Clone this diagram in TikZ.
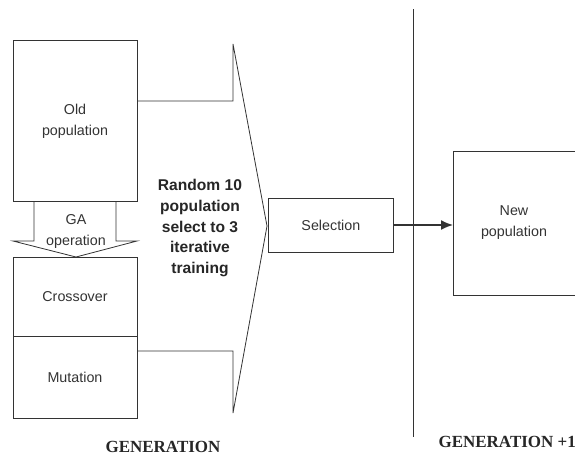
\documentclass[tikz,border=0pt]{standalone}
\usepackage{fontspec}
\setmainfont{Liberation Sans}
\newfontfamily\headfont{Liberation Serif}
\usetikzlibrary{arrows.meta}
\begin{document}
\begin{tikzpicture}[x=1pt,y=-1pt,
  line/.style={draw=black!80,line width=0.8pt},
  box/.style={line,rectangle,minimum width=124pt,inner sep=0pt},
  lbl/.style={font=\fontsize{14.3}{21}\selectfont,align=center,text=black!80},
  bold/.style={font=\fontsize{15.6}{20.7}\selectfont\bfseries,align=center,text=black!85},
  head/.style={font=\fontsize{17}{18}\headfont\bfseries,text=black!85}]
\useasboundingbox (0,0) rectangle (575,456);
\clip (0,0) rectangle (575,456);

% left column: population and operators
\node[box,minimum height=161pt,anchor=north west] (old) at (13,40) {};
\node[lbl] at (75,121) {Old\\population};
\node[box,minimum height=79pt,anchor=north west] (cross) at (13,257) {};
\node[lbl] at (75,297) {Crossover};
\node[box,minimum height=82pt,anchor=north west] (mut) at (13,336) {};
\node[lbl] at (75,377) {Mutation};

% block arrow for the GA operation
\draw[line] (34,201) -- (34,241) -- (13,241) -- (76,257) -- (137,241) -- (116,241) -- (116,201);
\node[lbl] at (76,231) {GA\\operation};

% wide arrow gathering the population into the selection
\coordinate (tip) at (267,226);
\draw[line] (old.east |- 0,101) -- (233,101) -- (233,44) -- (tip)
  -- (233,413) -- (233,351) -- (mut.east |- 0,351);
\node[bold] at (200,228) {Random 10\\population\\select to 3\\iterative\\training};

% selection and next generation
\node[box,minimum width=125pt,minimum height=54pt,anchor=west] (sel) at (268,225) {};
\node[lbl] at (sel.center) {Selection};
\node[box,minimum width=140pt,minimum height=144pt,anchor=north west] (new) at (453,151) {};
\node[lbl] at (514,223) {New\\population};
\draw[line,line width=1.6pt,-{Latex[length=12pt,width=10pt]}] (sel.east) -- (new.west |- sel.east);

% generation boundary
\coordinate (ltop) at (413,9);
\coordinate (lbot) at (413,437);
\draw[line] (ltop) -- (lbot);
\node[head] at (163,447) {GENERATION};
\node[head,anchor=west] at (435,442) {GENERATION +1};
\end{tikzpicture}
\end{document}
